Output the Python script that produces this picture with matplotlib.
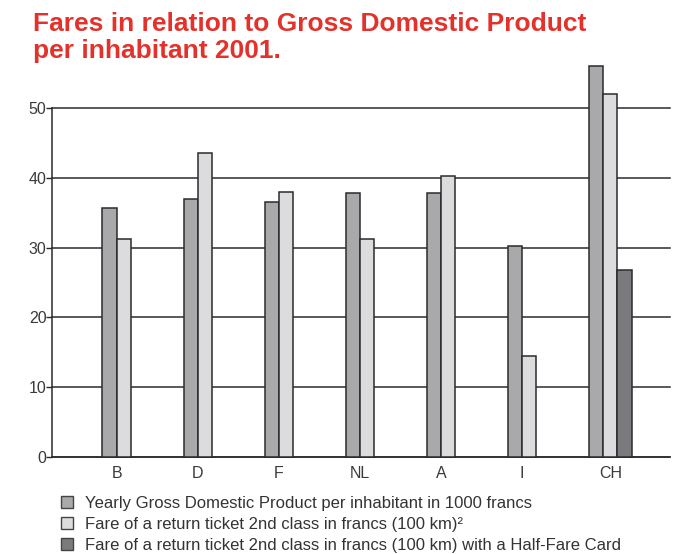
import numpy as np
import matplotlib.pyplot as plt
from matplotlib.patches import Rectangle

# GDP per inhabitant vs. rail fares, 2001
countries = ['B', 'D', 'F', 'NL', 'A', 'I', 'CH']
gdp_1000chf = [35.7, 37.0, 36.5, 37.9, 37.9, 30.3, 56.0]
fare_return = [31.2, 43.6, 38.0, 31.2, 40.3, 14.5, 52.0]
fare_halffare = [np.nan, np.nan, np.nan, np.nan, np.nan, np.nan, 26.8]

series_labels = [
    'Yearly Gross Domestic Product per inhabitant in 1000 francs',
    'Fare of a return ticket 2nd class in francs (100 km)²',
    'Fare of a return ticket 2nd class in francs (100 km) with a Half-Fare Card',
]
series_colors = ['#a9a9ac', '#dcdcde', '#7b7b7f']
title_lines = ['Fares in relation to Gross Domestic Product', 'per inhabitant 2001.']

plt.rcParams['font.family'] = ['Liberation Sans', 'DejaVu Sans']

W, H = 680, 554
fig = plt.figure(figsize=(W / 100, H / 100), dpi=100)
ax = fig.add_axes([52 / W, 97.3 / H, 618 / W, 348.4 / H])

# groups are packed with a constant gap; a group only as wide as its bars
bar_w = 1.0
gap = 3.7
margin_left = 3.55
margin_right = 2.7
series = [gdp_1000chf, fare_return, fare_halffare]

centers = []
edge = 0.0
bar_pos = [[] for _ in series]
bar_val = [[] for _ in series]
for i in range(len(countries)):
    vals = [s[i] for s in series]
    k = 0
    for j, v in enumerate(vals):
        if not np.isnan(v):
            bar_pos[j].append(edge + (k + 0.5) * bar_w)
            bar_val[j].append(v)
            k += 1
    centers.append(edge + k * bar_w / 2)
    edge += k * bar_w + gap
last_edge = edge - gap

for j in range(len(series)):
    ax.bar(bar_pos[j], bar_val[j], width=bar_w, color=series_colors[j],
           edgecolor='#2b2b2b', linewidth=1.1, zorder=3, clip_on=False)

ax.set_xlim(-margin_left, last_edge + margin_right)
ax.set_ylim(0, 50)
ax.set_yticks(range(0, 51, 10))
ax.yaxis.grid(True, color='#2b2b2b', linewidth=1.1, zorder=0)
for gl in ax.get_ygridlines():
    gl.set_clip_on(False)
ax.set_axisbelow(True)
ax.set_xticks(centers)
ax.set_xticklabels(countries)
ax.tick_params(axis='x', length=0, pad=7, labelsize=11.5, labelcolor='#3a3a3a')
ax.tick_params(axis='y', length=4, width=1, color='#2b2b2b', pad=0,
               labelsize=11.5, labelcolor='#3a3a3a')
for side in ['top', 'right']:
    ax.spines[side].set_visible(False)
for side in ['left', 'bottom']:
    ax.spines[side].set_color('#2b2b2b')
    ax.spines[side].set_linewidth(1.1)

# title, one line per call so each baseline sits where wanted
for line, base in zip(title_lines, [31, 58.5]):
    fig.text(33 / W, 1 - base / H, line, color='#e3322b', fontsize=19,
             fontweight='bold', ha='left', va='baseline')

# legend drawn by hand: swatch + label per row
for j, (label, color) in enumerate(zip(series_labels, series_colors)):
    yc = 502 + j * 21
    fig.patches.append(Rectangle((61 / W, 1 - (yc + 6) / H), 12 / W, 12 / H,
                                 facecolor=color, edgecolor='#444444', linewidth=1,
                                 transform=fig.transFigure, figure=fig))
    fig.text(85 / W, 1 - yc / H, label, fontsize=12, color='#333333',
             ha='left', va='center_baseline')

fig.savefig('out.png', dpi=100)
